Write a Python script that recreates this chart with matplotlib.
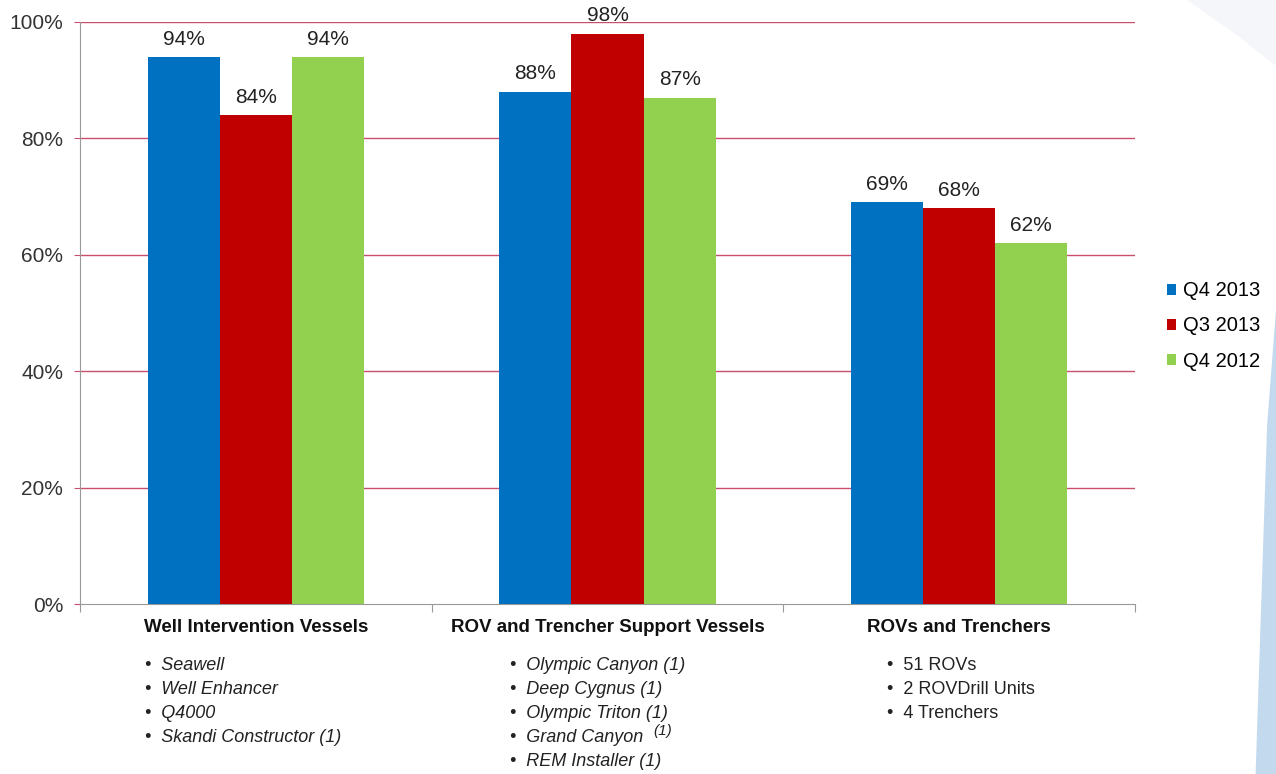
import numpy as np
import matplotlib
matplotlib.use('Agg')
import matplotlib.pyplot as plt
from matplotlib.patches import Polygon

# datos
categorias = ['Well Intervention Vessels', 'ROV and Trencher Support Vessels', 'ROVs and Trenchers']
series = ['Q4 2013', 'Q3 2013', 'Q4 2012']
q4_2013 = [94, 88, 69]
q3_2013 = [84, 98, 68]
q4_2012 = [94, 87, 62]
colores = ['#0070C0', '#C00000', '#92D050']
yticks = [0, 20, 40, 60, 80, 100]

flota = [
    ['Seawell', 'Well Enhancer', 'Q4000', 'Skandi Constructor (1)'],
    ['Olympic Canyon (1)', 'Deep Cygnus (1)', 'Olympic Triton (1)', 'Grand Canyon', 'REM Installer (1)'],
    ['51 ROVs', '2 ROVDrill Units', '4 Trenchers'],
]
cursiva = [True, True, False]

plt.rcParams['font.family'] = ['Liberation Sans', 'DejaVu Sans']

fig = plt.figure(figsize=(12.76, 7.74), dpi=100)
fig.patch.set_facecolor('white')

# fondo decorativo a la derecha
fig.patches.append(Polygon([[0.984, 0.0], [1.0, 0.0], [1.0, 0.60], [0.993, 0.45]],
                           closed=True, transform=fig.transFigure, facecolor='#C3DAEE',
                           edgecolor='none', zorder=0))
fig.patches.append(Polygon([[0.93, 1.0], [1.0, 1.0], [1.0, 0.915], [0.965, 0.96]],
                           closed=True, transform=fig.transFigure, facecolor='#F5F6F9',
                           edgecolor='none', zorder=0))

ax = fig.add_axes([0.0627, 0.2196, 0.8268, 0.752])
ax.patch.set_alpha(0)

x = np.arange(len(categorias))
ancho = 0.205
valores = [q4_2013, q3_2013, q4_2012]
for i, (nombre, vals) in enumerate(zip(series, valores)):
    barras = ax.bar(x + (i - 1) * ancho, vals, ancho, color=colores[i], label=nombre, zorder=3)
    for b, v in zip(barras, vals):
        ax.annotate(f'{v}%', (b.get_x() + b.get_width() / 2, v), xytext=(0, 6),
                    textcoords='offset points', ha='center', va='bottom',
                    fontsize=15, color='#222222')

ax.set_xlim(-0.5, 2.5)
ax.set_ylim(0, 100)
ax.set_yticks(yticks)
ax.set_yticklabels([f'{t}%' for t in yticks], fontsize=15, color='#333333')
for t in yticks[1:]:
    ax.axhline(t, color='#C8506E', lw=1.0, zorder=1)
ax.tick_params(axis='y', length=4, color='#C8506E', pad=8)

ax.set_xticks([-0.5, 0.5, 1.5, 2.5])
ax.set_xticklabels([])
ax.tick_params(axis='x', length=6, color='#999999', direction='out')
for j, c in enumerate(categorias):
    ax.text(j, -0.025, c, transform=ax.get_xaxis_transform(), ha='center', va='top',
            fontsize=13.5, fontweight='bold', color='#111111')

ax.spines['top'].set_visible(False)
ax.spines['right'].set_visible(False)
ax.spines['left'].set_color('#999999')
ax.spines['bottom'].set_color('#999999')

# listas de equipos
x_lista = [-0.315, 0.723, 1.796]
for j, items in enumerate(flota):
    for k, item in enumerate(items):
        ax.text(x_lista[j], -0.105 - k * 0.0413, '\u2022  ' + item,
                transform=ax.get_xaxis_transform(), ha='left', va='center',
                fontsize=13, color='#222222',
                fontstyle='italic' if cursiva[j] else 'normal')
# el "(1)" elevado de Grand Canyon
ax.text(1.13, -0.218, '(1)', transform=ax.get_xaxis_transform(), ha='left',
        va='center', fontsize=11, fontstyle='italic', color='#222222')

leg = fig.legend(loc='upper left', bbox_to_anchor=(0.9, 0.66), frameon=False,
                 fontsize=14.5, handlelength=0.45, handleheight=0.45, handletextpad=0.35,
                 labelspacing=0.8)

fig.savefig('out.png', dpi=100)
